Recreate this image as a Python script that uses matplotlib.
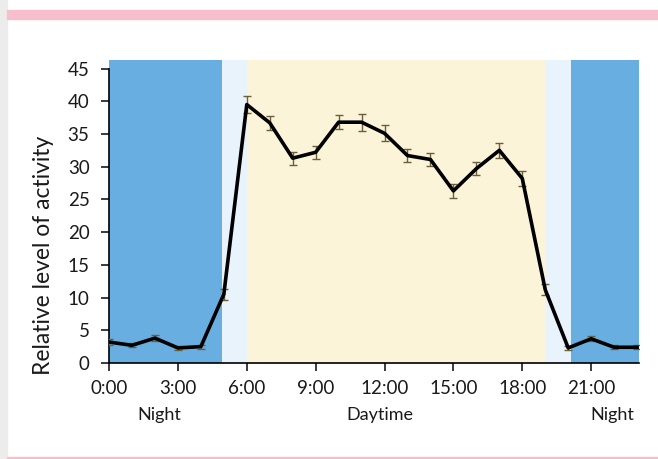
import numpy as np
import matplotlib.pyplot as plt
from matplotlib.patches import Rectangle

plt.rcParams['font.family'] = ['Lato', 'DejaVu Sans']

# hourly activity (mean and error)
hours = list(range(24))
activity = [3.2, 2.7, 3.8, 2.3, 2.5, 10.5, 39.5, 36.7, 31.3, 32.2, 36.8, 36.8,
            35.1, 31.7, 31.1, 26.3, 29.7, 32.5, 28.2, 11.2, 2.3, 3.7, 2.4, 2.4]
errors = [0.4, 0.3, 0.5, 0.3, 0.3, 0.8, 1.3, 1.1, 1.0, 1.0, 1.1, 1.3,
          1.2, 1.0, 1.0, 1.1, 1.0, 1.1, 1.2, 0.8, 0.3, 0.4, 0.3, 0.3]

xtick_pos = [0, 3, 6, 9, 12, 15, 18, 21]
xtick_labels = ["0:00", "3:00", "6:00", "9:00", "12:00", "15:00", "18:00", "21:00"]
yticks = list(range(0, 50, 5))

# shaded periods: (start, end, colour)
periods = [(0, 4.9, "#69aee0"), (4.9, 6.0, "#e8f3fb"), (6.0, 19.0, "#fcf4d9"),
           (19.0, 20.1, "#e8f3fb"), (20.1, 23.1, "#69aee0")]
period_names = [(2.2, "Night"), (11.8, "Daytime"), (21.9, "Night")]

fig = plt.figure(figsize=(6.58, 4.59), dpi=100)

# card frame
fig.patches.append(Rectangle((0, 0), 0.011, 1, transform=fig.transFigure,
                             color="#ececec", zorder=0))
fig.patches.append(Rectangle((0.011, 0.959), 0.989, 0.02, transform=fig.transFigure,
                             color="#f7bfcd", zorder=1))
fig.patches.append(Rectangle((0.011, 0.0), 0.989, 0.005, transform=fig.transFigure,
                             color="#f7bfcd", zorder=1))

ax = fig.add_axes([0.1657, 0.2092, 0.806, 0.660])
for start, end, col in periods:
    ax.axvspan(start, end, color=col, lw=0, zorder=0)

ax.errorbar(hours, activity, yerr=errors, color="black", lw=2.6,
            ecolor="#6b5e3a", elinewidth=1.0, capsize=3, capthick=1.0, zorder=3)

ax.set_xlim(0, 23.1)
ax.set_ylim(0, 46.3)
ax.set_xticks(xtick_pos)
ax.set_xticklabels(xtick_labels)
ax.set_yticks(yticks)
ax.spines["left"].set_bounds(0, 45)
ax.spines["top"].set_visible(False)
ax.spines["right"].set_visible(False)
for s in ("left", "bottom"):
    ax.spines[s].set_linewidth(1.2)
ax.tick_params(direction="out", length=6, width=1.2, labelsize=13.5, colors="#1a1a1a")
ax.tick_params(axis="x", pad=6)
ax.tick_params(axis="y", pad=8)
ax.set_ylabel("Relative level of activity", fontsize=16.5, color="#1a1a1a")
ax.yaxis.set_label_coords(-0.103, 0.356)

for x, name in period_names:
    ax.text(x, -7.9, name, ha="center", va="center", fontsize=13, color="#1a1a1a")

fig.savefig("out.png", dpi=100)
